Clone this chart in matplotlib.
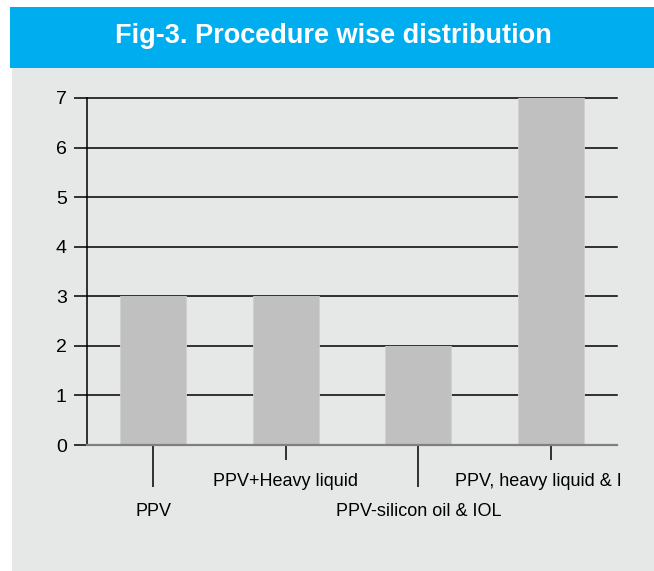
import matplotlib.pyplot as plt
from matplotlib.patches import Rectangle
from matplotlib.transforms import Bbox, TransformedBbox

procedures = ['PPV', 'PPV+Heavy liquid', 'PPV-silicon oil & IOL', 'PPV, heavy liquid & IOL']
counts = [3, 3, 2, 7]

plt.rcParams['font.family'] = ['Liberation Sans Narrow', 'Liberation Sans', 'DejaVu Sans']

fig = plt.figure(figsize=(6.54, 5.71), dpi=100)
fig.patch.set_facecolor('white')

# grey panel and blue title band
fig.patches.append(Rectangle((12 / 654, 0), 1, 1 - 68 / 571, transform=fig.transFigure,
                             facecolor='#e6e7e7', edgecolor='none', zorder=-1))
fig.patches.append(Rectangle((10 / 654, 1 - 68 / 571), 1, 61 / 571, transform=fig.transFigure,
                             facecolor='#00aeef', edgecolor='none', zorder=-1))
fig.text(333 / 654, 1 - 36 / 571, 'Fig-3. Procedure wise distribution', color='white',
         fontsize=19.5, fontweight='bold', ha='center', va='center')

ax = fig.add_axes([87 / 654, 1 - 445 / 571, 530 / 654, 347 / 571])
ax.set_facecolor('#e6e7e7')

x = list(range(len(counts)))
ax.bar(x, counts, width=0.5, color='#c0c0c0', edgecolor='#d0d0d0', linewidth=0.6, zorder=2)

ax.set_xlim(-0.5, 3.5)
ax.set_ylim(0, 7)
ax.set_yticks(range(8))
ax.yaxis.grid(True, color='black', linewidth=1.1, zorder=1)
ax.set_axisbelow(True)
for gl in ax.get_ygridlines():
    gl.set_clip_on(False)

for s in ['top', 'right']:
    ax.spines[s].set_visible(False)
ax.spines['left'].set_color('black')
ax.spines['left'].set_linewidth(1.1)
ax.spines['bottom'].set_color('#7f7f7f')
ax.spines['bottom'].set_linewidth(1.6)
ax.spines['bottom'].set_zorder(3)

ax.tick_params(axis='y', length=9.5, width=1.1, pad=5, labelsize=14, colors='black')

# long ticks for labels on lower row, short ticks for upper row
ax.set_xticks([0, 2], [procedures[0], procedures[2]])
ax.set_xticks([1, 3], [procedures[1], procedures[3]], minor=True)
ax.tick_params(axis='x', which='major', length=30.5, width=1.1, pad=11, labelsize=13)
ax.tick_params(axis='x', which='minor', length=11, width=1.1, pad=9, labelsize=13)

clip = TransformedBbox(Bbox([[0, 0], [622 / 654, 1]]), fig.transFigure)
for lab in ax.get_xticklabels(minor=True) + ax.get_xticklabels():
    lab.set_clip_box(clip)
    lab.set_clip_on(True)

fig.savefig('out.png', dpi=100, facecolor=fig.get_facecolor())
